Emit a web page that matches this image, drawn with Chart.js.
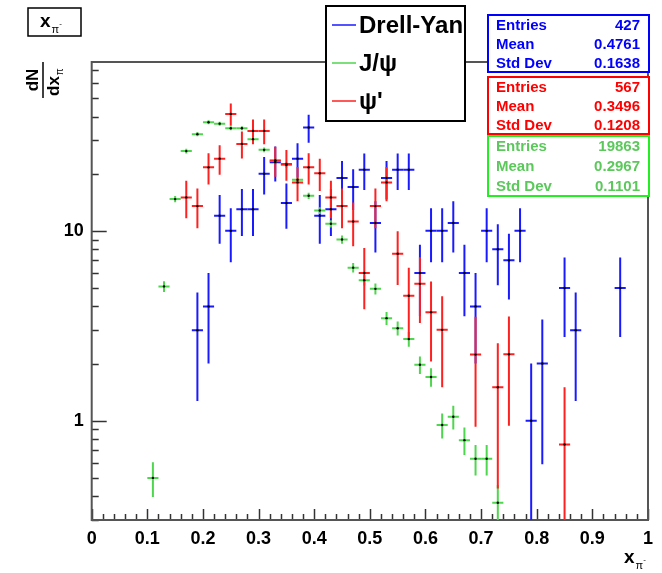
<!DOCTYPE html>
<html lang="en">
<head>
<meta charset="UTF-8">
<title>x_pi distributions</title>
<style>
  body { margin: 0; background: #ffffff; }
  #xpiChart { display: block; }
</style>
</head>
<body>
<canvas id="xpiChart" width="662" height="573"></canvas>
<script src="https://cdn.jsdelivr.net/npm/chart.js@4.4.0/dist/chart.umd.min.js"></script>
<script>
// histogram bins are 0.02 wide, values are bin contents with their errors
const BIN_HALF = 0.01;

// Drell-Yan
const dyX   = [0.19, 0.21, 0.23, 0.25, 0.27, 0.29, 0.31, 0.33, 0.35, 0.37, 0.39, 0.41, 0.43, 0.45, 0.47, 0.49, 0.51, 0.53,
               0.55, 0.57, 0.59, 0.61, 0.63, 0.65, 0.67, 0.69, 0.71, 0.73, 0.75, 0.77, 0.79, 0.81, 0.85, 0.87, 0.95];
const dyY   = [3, 4, 12, 10, 13, 13, 20, 23, 14, 24, 35, 12, 13, 19, 17, 21, 11, 19,
               21, 21, 6, 10, 10, 11, 6, 4, 10, 8, 7, 10, 1, 2, 5, 3, 5];
const dyErr = [1.73, 2.0, 3.46, 3.16, 3.61, 3.61, 4.47, 4.8, 3.74, 4.9, 5.92, 3.46, 3.61, 4.36, 4.12, 4.58, 3.32, 4.36,
               4.58, 4.58, 2.45, 3.16, 3.16, 3.32, 2.45, 2.0, 3.16, 2.83, 2.65, 3.16, 1.0, 1.41, 2.24, 1.73, 2.24];

// J/psi
const jpsiX   = [0.11, 0.13, 0.15, 0.17, 0.19, 0.21, 0.23, 0.25, 0.27, 0.29, 0.31, 0.33, 0.35, 0.37, 0.39, 0.41,
                 0.43, 0.45, 0.47, 0.49, 0.51, 0.53, 0.55, 0.57, 0.59, 0.61, 0.63, 0.65, 0.67, 0.69, 0.71, 0.73];
const jpsiY   = [0.50, 5.1, 14.7, 26.3, 32.3, 37.3, 36.7, 34.7, 34.7, 30.4, 26.7, 23.4, 22.2, 18.6, 15.3, 12.8,
                 10.9, 9.0, 6.4, 5.5, 4.95, 3.47, 3.07, 2.69, 1.97, 1.70, 0.95, 1.05, 0.79, 0.63, 0.63, 0.37];
const jpsiErr = [0.104, 0.331, 0.562, 0.752, 0.833, 0.896, 0.888, 0.864, 0.864, 0.809, 0.758, 0.709, 0.691, 0.632, 0.574, 0.525,
                 0.484, 0.44, 0.371, 0.344, 0.326, 0.273, 0.257, 0.24, 0.206, 0.191, 0.143, 0.15, 0.13, 0.116, 0.116, 0.089];

// psi'
const psi2X   = [0.17, 0.19, 0.21, 0.23, 0.25, 0.27, 0.29, 0.31, 0.33, 0.35, 0.37, 0.39, 0.41, 0.43, 0.45, 0.47,
                 0.49, 0.51, 0.53, 0.55, 0.57, 0.59, 0.61, 0.63, 0.69, 0.73, 0.75, 0.85];
const psi2Y   = [15.0, 13.5, 21.6, 24.0, 41.3, 28.7, 33.6, 33.6, 23.5, 22.5, 18.0, 21.6, 20.1, 15.0, 13.5, 11.2,
                 6.0, 13.5, 18.0, 7.57, 4.55, 5.26, 3.73, 3.01, 2.23, 1.5, 2.24, 0.75];
const psi2Err = [3.36, 3.19, 4.03, 4.25, 5.58, 4.65, 5.03, 5.03, 4.21, 4.12, 3.68, 4.03, 3.89, 3.36, 3.19, 2.9,
                 2.13, 3.19, 3.68, 2.39, 1.85, 1.99, 1.68, 1.51, 1.3, 1.06, 1.3, 0.75];

// axis ticks
const xTickValues = [0, 0.1, 0.2, 0.3, 0.4, 0.5, 0.6, 0.7, 0.8, 0.9, 1];
const yTickValues = [1, 10];
const yMinorValues = [0.3, 0.4, 0.5, 0.6, 0.7, 0.8, 0.9, 2, 3, 4, 5, 6, 7, 8, 9, 20, 30, 40, 50, 60, 70];

// stat boxes
const statLabels = ['Entries', 'Mean', 'Std Dev'];
const dyStats   = ['427', '0.4761', '0.1638'];
const psi2Stats = ['567', '0.3496', '0.1208'];
const jpsiStats = ['19863', '0.2967', '0.1101'];

const BLUE = '#1a1aff', GREEN = '#4fd64f', RED = '#ff2020';
const FONT = '"Liberation Sans", Arial, Helvetica, sans-serif';

function points(xs, ys, es) {
  return xs.map((x, i) => ({ x: x, y: ys[i], e: es[i] }));
}

// frame and inward tick marks
const frameAndTicks = {
  id: 'frameAndTicks',
  beforeDatasetsDraw(chart) {
    const { ctx, chartArea: a, scales: { x, y } } = chart;
    ctx.save();
    ctx.strokeStyle = '#333';
    ctx.lineWidth = 1.5;
    for (let i = 0; i <= 50; i++) {
      const v = i / 50;
      const px = Math.round(x.getPixelForValue(v)) + 0.5;
      const len = (i % 5 === 0) ? 11 : 6;
      ctx.beginPath(); ctx.moveTo(px, a.bottom); ctx.lineTo(px, a.bottom - len); ctx.stroke();
    }
    yTickValues.forEach(v => {
      const py = Math.round(y.getPixelForValue(v)) + 0.5;
      ctx.beginPath(); ctx.moveTo(a.left, py); ctx.lineTo(a.left + 15, py); ctx.stroke();
    });
    yMinorValues.forEach(v => {
      const py = Math.round(y.getPixelForValue(v)) + 0.5;
      ctx.beginPath(); ctx.moveTo(a.left, py); ctx.lineTo(a.left + 7, py); ctx.stroke();
    });
    ctx.strokeStyle = '#555';
    ctx.lineWidth = 2;
    ctx.strokeRect(a.left, a.top, a.right - a.left, a.bottom - a.top);
    ctx.restore();
  }
};

// horizontal bin width and vertical error for each point
const errorBars = {
  id: 'errorBars',
  beforeDatasetsDraw(chart) {
    const { ctx, chartArea: a, scales: { x, y } } = chart;
    ctx.save();
    ctx.beginPath();
    ctx.rect(a.left, a.top, a.right - a.left, a.bottom - a.top);
    ctx.clip();
    ctx.lineWidth = 2;
    chart.data.datasets.forEach(ds => {
      ctx.strokeStyle = ds.barColor;
      ds.data.forEach(p => {
        const px = x.getPixelForValue(p.x);
        const py = y.getPixelForValue(p.y);
        const top = y.getPixelForValue(p.y + p.e);
        const low = p.y - p.e > 0.01 ? y.getPixelForValue(p.y - p.e) : a.bottom + 10;
        ctx.beginPath();
        ctx.moveTo(px, top); ctx.lineTo(px, low);
        ctx.moveTo(x.getPixelForValue(p.x - BIN_HALF), py);
        ctx.lineTo(x.getPixelForValue(p.x + BIN_HALF), py);
        ctx.stroke();
      });
    });
    ctx.restore();
  }
};

function subscriptPi(ctx, x, base, size, minus) {
  ctx.font = 'bold ' + size + 'px ' + FONT;
  ctx.textAlign = 'left';
  ctx.textBaseline = 'alphabetic';
  ctx.fillText('x', x, base);
  const w = ctx.measureText('x').width;
  ctx.font = Math.round(size * 0.6) + 'px ' + FONT;
  ctx.fillText('\u03c0', x + w + 1, base + size * 0.3);
  if (minus) {
    const pw = ctx.measureText('\u03c0').width;
    ctx.font = Math.round(size * 0.4) + 'px ' + FONT;
    ctx.fillText('-', x + w + pw + 1, base - size * 0.05);
  }
}

function statBox(ctx, left, top, w, h, color, textColor, values) {
  ctx.fillStyle = '#fff';
  ctx.fillRect(left, top, w, h);
  ctx.strokeStyle = color;
  ctx.lineWidth = 2;
  ctx.strokeRect(left, top, w, h);
  ctx.fillStyle = textColor;
  ctx.font = 'bold 15px ' + FONT;
  ctx.textBaseline = 'middle';
  const step = h / 3;
  statLabels.forEach((lab, i) => {
    const ty = top + step * (i + 0.5) + 1;
    ctx.textAlign = 'left';
    ctx.fillText(lab, left + 8, ty);
    ctx.textAlign = 'right';
    ctx.fillText(values[i], left + w - 9, ty);
  });
}

// legend, statistics boxes, title and axis titles
const annotations = {
  id: 'annotations',
  afterDraw(chart) {
    const { ctx } = chart;
    ctx.save();

    // legend
    ctx.fillStyle = '#fff';
    ctx.fillRect(326, 6, 139, 115);
    ctx.strokeStyle = '#000';
    ctx.lineWidth = 2;
    ctx.strokeRect(326, 6, 139, 115);
    const entries = [['Drell-Yan', BLUE, 25], ['J/\u03c8', GREEN, 63], ['\u03c8\'', RED, 101]];
    entries.forEach(([label, color, ly]) => {
      ctx.strokeStyle = color;
      ctx.lineWidth = 1.5;
      ctx.beginPath(); ctx.moveTo(332, ly); ctx.lineTo(356, ly); ctx.stroke();
      ctx.fillStyle = '#000';
      ctx.font = 'bold 24px ' + FONT;
      ctx.textAlign = 'left';
      ctx.textBaseline = 'middle';
      ctx.fillText(label, 359, ly + 1);
    });

    statBox(ctx, 488, 15, 161, 57, '#0000ff', '#0000ff', dyStats);
    statBox(ctx, 488, 77, 161, 57, '#ff0000', '#ff0000', psi2Stats);
    statBox(ctx, 488, 136, 161, 60, '#22ee22', '#5cc85c', jpsiStats);

    // title box
    ctx.fillStyle = '#fff';
    ctx.fillRect(28, 8, 53, 28);
    ctx.strokeStyle = '#000';
    ctx.lineWidth = 1.5;
    ctx.strokeRect(28, 8, 53, 28);
    ctx.fillStyle = '#000';
    subscriptPi(ctx, 40, 27, 19, true);

    // x axis title
    subscriptPi(ctx, 624, 563, 19, true);

    // y axis title, a rotated fraction dN / dx
    ctx.translate(43, 80);
    ctx.rotate(-Math.PI / 2);
    ctx.fillStyle = '#000';
    ctx.font = 'bold 17px ' + FONT;
    ctx.textAlign = 'center';
    ctx.textBaseline = 'alphabetic';
    ctx.fillText('dN', 0, -5);
    ctx.strokeStyle = '#000';
    ctx.lineWidth = 1.5;
    ctx.beginPath(); ctx.moveTo(-18, 0); ctx.lineTo(18, 0); ctx.stroke();
    ctx.textAlign = 'left';
    ctx.fillText('dx', -16, 16);
    const dw = ctx.measureText('dx').width;
    ctx.font = '10px ' + FONT;
    ctx.fillText('\u03c0', -16 + dw + 1, 20);

    ctx.restore();
  }
};

new Chart(document.getElementById('xpiChart'), {
  type: 'scatter',
  data: {
    datasets: [
      { label: 'Drell-Yan', data: points(dyX, dyY, dyErr), barColor: BLUE },
      { label: 'J/psi', data: points(jpsiX, jpsiY, jpsiErr), barColor: GREEN },
      { label: "psi'", data: points(psi2X, psi2Y, psi2Err), barColor: RED }
    ].map(ds => Object.assign(ds, {
      pointRadius: 1.2,
      pointBackgroundColor: '#000',
      pointBorderWidth: 0,
      showLine: false
    }))
  },
  options: {
    responsive: false,
    animation: false,
    devicePixelRatio: 1,
    layout: { padding: { top: 62, right: 14, left: 0, bottom: 0 } },
    plugins: { legend: { display: false }, tooltip: { enabled: false } },
    scales: {
      x: {
        type: 'linear',
        min: 0,
        max: 1,
        afterBuildTicks: s => { s.ticks = xTickValues.map(v => ({ value: v })); },
        afterFit: s => { s.height = 53; },
        grid: { display: false },
        border: { display: false },
        ticks: {
          color: '#000',
          padding: 0,
          maxRotation: 0,
          font: { family: FONT, size: 18, weight: 'bold' },
          callback: v => String(Math.round(v * 10) / 10)
        }
      },
      y: {
        type: 'logarithmic',
        min: 0.301,
        max: 77.5,
        afterBuildTicks: s => { s.ticks = yTickValues.map(v => ({ value: v })); },
        afterFit: s => { s.width = 91.7; },
        grid: { display: false },
        border: { display: false },
        ticks: {
          color: '#000',
          padding: 0,
          font: { family: FONT, size: 18, weight: 'bold' },
          callback: v => String(v)
        }
      }
    }
  },
  plugins: [frameAndTicks, errorBars, annotations]
});
</script>
</body>
</html>
